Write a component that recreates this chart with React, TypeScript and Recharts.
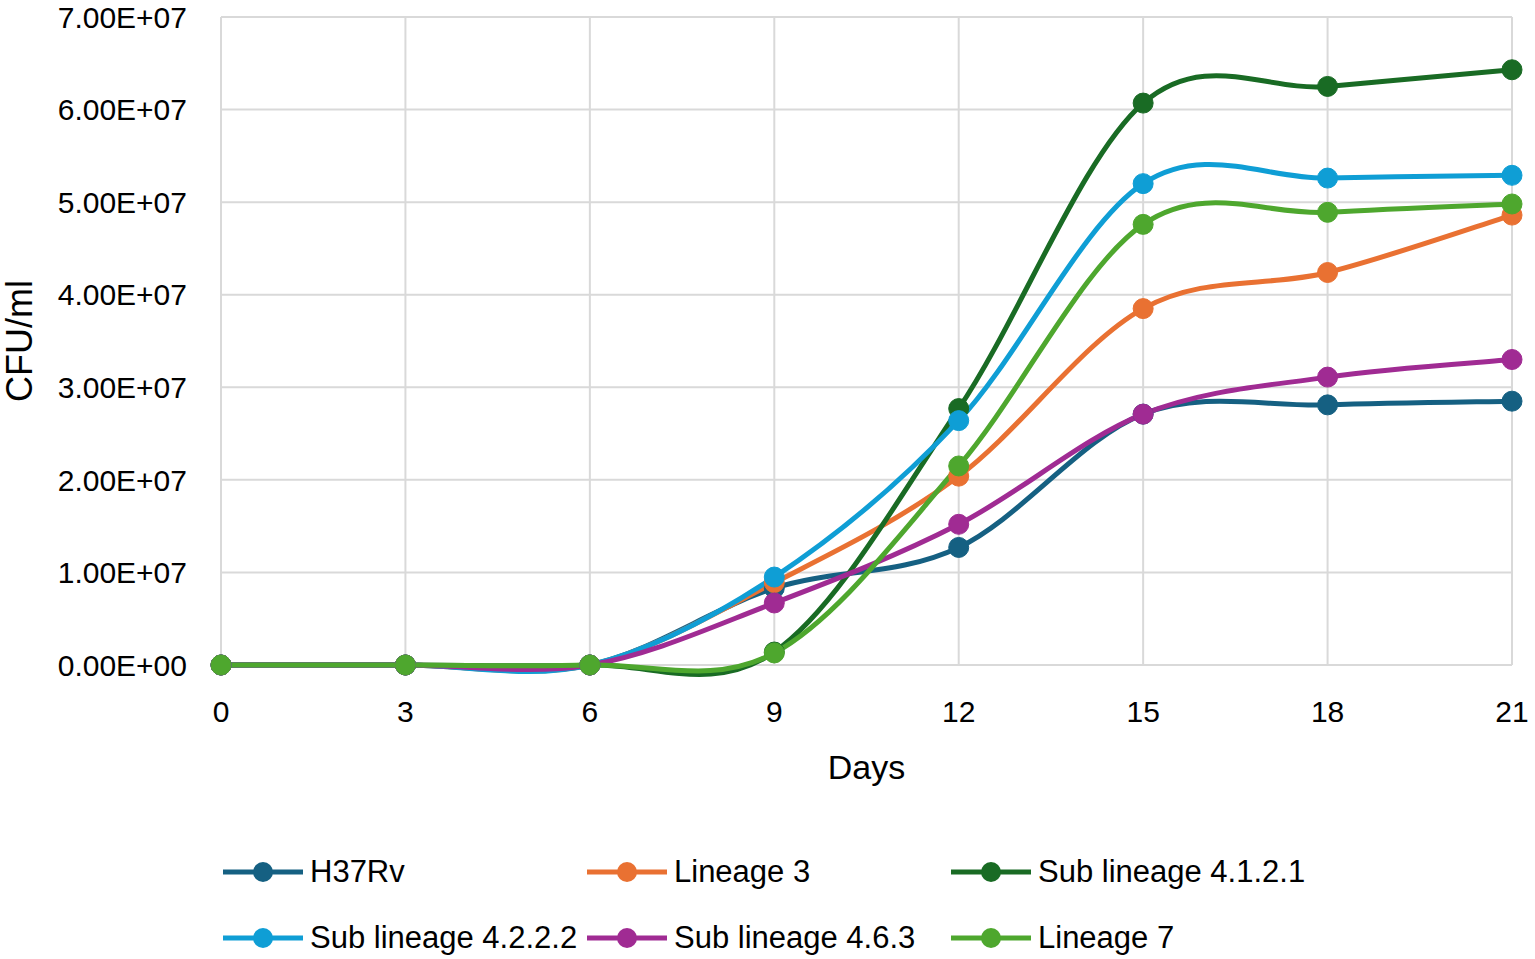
import { LineChart, Line, XAxis, YAxis, CartesianGrid, Legend } from "recharts";

const days = [0, 3, 6, 9, 12, 15, 18, 21];
const h37rv = [0, 0, 0, 8.3e6, 1.27e7, 2.71e7, 2.81e7, 2.85e7];
const lineage3 = [0, 0, 0, 8.9e6, 2.04e7, 3.85e7, 4.24e7, 4.86e7];
const sub4121 = [0, 0, 0, 1.4e6, 2.77e7, 6.07e7, 6.25e7, 6.43e7];
const sub4222 = [0, 0, 0, 9.5e6, 2.64e7, 5.2e7, 5.26e7, 5.29e7];
const sub463 = [0, 0, 0, 6.7e6, 1.52e7, 2.71e7, 3.11e7, 3.3e7];
const lineage7 = [0, 0, 0, 1.3e6, 2.15e7, 4.76e7, 4.89e7, 4.98e7];
const yTicks = [0, 1e7, 2e7, 3e7, 4e7, 5e7, 6e7, 7e7];

const series = [
  { key: "h37rv", name: "H37Rv", color: "#156082", values: h37rv },
  { key: "lineage3", name: "Lineage 3", color: "#E97132", values: lineage3 },
  { key: "sub4121", name: "Sub lineage 4.1.2.1", color: "#196B24", values: sub4121 },
  { key: "sub4222", name: "Sub lineage 4.2.2.2", color: "#0F9ED5", values: sub4222 },
  { key: "sub463", name: "Sub lineage 4.6.3", color: "#A02B93", values: sub463 },
  { key: "lineage7", name: "Lineage 7", color: "#4EA72E", values: lineage7 },
];

const data = days.map((d, i) => {
  const row: Record<string, number> = { day: d };
  series.forEach((s) => (row[s.key] = s.values[i]));
  return row;
});

// excel style smoothing (catmull-rom bezier)
function excelCurve(context: any) {
  let pts: number[][] = [];
  return {
    areaStart() {},
    areaEnd() {},
    lineStart() {
      pts = [];
    },
    point(x: number, y: number) {
      pts.push([+x, +y]);
    },
    lineEnd() {
      const n = pts.length;
      if (!n) return;
      context.moveTo(pts[0][0], pts[0][1]);
      for (let i = 0; i < n - 1; i++) {
        const p0 = pts[i > 0 ? i - 1 : i];
        const p1 = pts[i];
        const p2 = pts[i + 1];
        const p3 = pts[i + 2 < n ? i + 2 : i + 1];
        context.bezierCurveTo(
          p1[0] + (p2[0] - p0[0]) / 6,
          p1[1] + (p2[1] - p0[1]) / 6,
          p2[0] - (p3[0] - p1[0]) / 6,
          p2[1] - (p3[1] - p1[1]) / 6,
          p2[0],
          p2[1]
        );
      }
    },
  };
}

const fmtSci = (v: number) => {
  const [m, e] = v.toExponential(2).split("e");
  const sign = e[0] === "-" ? "-" : "+";
  const exp = e.replace(/[+-]/, "").padStart(2, "0");
  return `${m}E${sign}${exp}`;
};

const legendCols = [223, 587, 951];
const legendRows = [872, 938];
const LEGEND_TOP = 840;
const LEGEND_H = 120;

function renderLegend() {
  return (
    <div style={{ position: "relative", width: 1535, height: LEGEND_H }}>
      {series.map((s, i) => {
        const left = legendCols[i % 3];
        const top = legendRows[Math.floor(i / 3)] - LEGEND_TOP - 18;
        return (
          <div
            key={s.key}
            style={{
              position: "absolute",
              left,
              top,
              height: 36,
              display: "flex",
              alignItems: "center",
              whiteSpace: "nowrap",
            }}
          >
            <svg width={82} height={36}>
              <line x1={0} y1={18} x2={80} y2={18} stroke={s.color} strokeWidth={5} />
              <circle cx={40} cy={18} r={10} fill={s.color} />
            </svg>
            <span
              style={{
                marginLeft: 5,
                fontFamily: "'Liberation Sans', Arial, sans-serif",
                fontSize: 31,
                color: "#000",
              }}
            >
              {s.name}
            </span>
          </div>
        );
      })}
    </div>
  );
}

export default function App() {
  return (
    <div style={{ position: "absolute", left: 0, top: 0, background: "#fff" }}>
      <LineChart
        width={1535}
        height={959}
        data={data}
        margin={{ top: 17, right: 23, bottom: 0, left: 0 }}
        style={{ fontFamily: "'Liberation Sans', Arial, sans-serif" }}
      >
        <CartesianGrid stroke="#d9d9d9" strokeWidth={2} />
        <XAxis
          dataKey="day"
          type="number"
          domain={[0, 21]}
          ticks={days}
          axisLine={false}
          tickLine={false}
          tickSize={0}
          tickMargin={36}
          height={294 - LEGEND_H}
          tick={{ fontSize: 30, fill: "#000" }}
          label={{
            value: "Days",
            position: "insideTop",
            offset: 90,
            style: { fontSize: 34, fill: "#000" },
          }}
        />
        <YAxis
          type="number"
          domain={[0, 7e7]}
          ticks={yTicks}
          width={221}
          axisLine={false}
          tickLine={false}
          tickSize={0}
          tickMargin={34}
          tickFormatter={fmtSci}
          tick={{ fontSize: 30, fill: "#000" }}
          label={{
            value: "CFU/ml",
            angle: -90,
            position: "insideLeft",
            offset: 19,
            style: { fontSize: 36, fill: "#000", textAnchor: "middle" },
          }}
        />
        {series.map((s) => (
          <Line
            key={s.key}
            dataKey={s.key}
            name={s.name}
            type={excelCurve as any}
            stroke={s.color}
            strokeWidth={5}
            dot={{ r: 10, fill: s.color, stroke: s.color, strokeWidth: 1 }}
            activeDot={false}
            isAnimationActive={false}
          />
        ))}
        <Legend
          content={renderLegend}
          wrapperStyle={{ position: "absolute", left: 0, top: LEGEND_TOP, width: 1535 }}
        />
      </LineChart>
    </div>
  );
}
